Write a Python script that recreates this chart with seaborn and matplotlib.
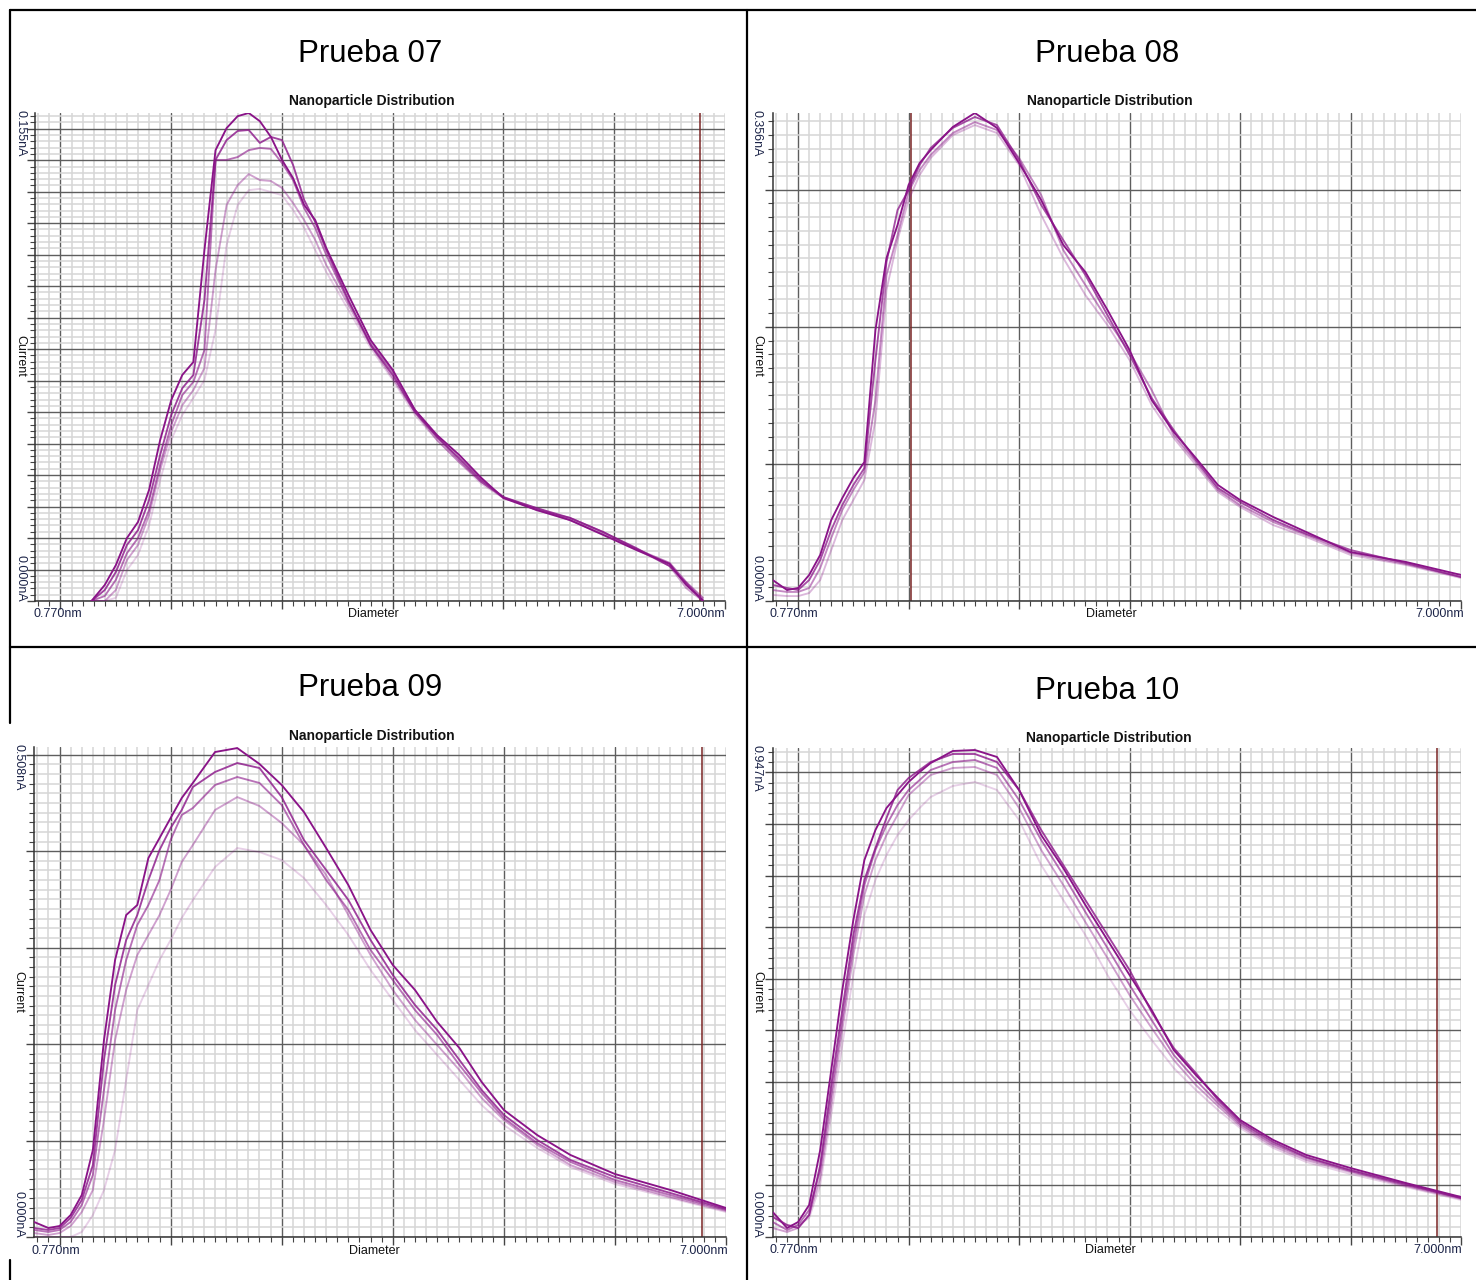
import numpy as np
import pandas as pd
import matplotlib
matplotlib.use("Agg")
import matplotlib.pyplot as plt
from matplotlib.ticker import MultipleLocator
from matplotlib.lines import Line2D
import seaborn as sns

W, H = 1476, 1280
sns.set_style("white")
plt.rcParams['font.family'] = ['Liberation Sans', 'DejaVu Sans']

# ---------------- text ----------------
titles = ["Prueba 07", "Prueba 08", "Prueba 09", "Prueba 10"]
chart_title = "Nanoparticle Distribution"
x_label = "Diameter"
y_label = "Current"
x_min_label = "0.770nm"
x_max_label = "7.000nm"
y_max_labels = ["0.155nA", "0.356nA", "0.508nA", "0.947nA"]
y_min_label = "0.000nA"

# ---------------- scales ----------------
x_range_nm = (0.77, 7.0)
y_max_nA = [0.155, 0.356, 0.508, 0.947]
y_major_nA = [0.01, 0.1, 0.1, 0.1]
y_minor_nA = [0.002, 0.01, 0.01, 0.02]
marker_nm = [6.77, 2.02, 6.78, 6.78]

# ---------------- data (diameter nm, current pA) ----------------
d07 = [1.28, 1.4, 1.5, 1.6, 1.7, 1.8, 1.9, 2.0, 2.1, 2.2, 2.3, 2.4, 2.5, 2.6, 2.7,
       2.8, 2.9, 3.0, 3.1, 3.2, 3.3, 3.4, 3.6, 3.8, 4.0, 4.2, 4.4, 4.6, 4.8, 5.0,
       5.3, 5.6, 5.9, 6.2, 6.5, 6.65, 6.8]
p07_run1 = [0, 5.1, 11.4, 20.0, 25.1, 35.3, 51.1, 63.8, 71.8, 75.9, 111.5, 143.2, 150.2, 154.0, 155.0,
            152.4, 147.4, 140.1, 134.3, 125.8, 121.0, 112.1, 97.2, 82.9, 73.4, 60.7, 52.7, 46.4, 39.1, 32.7,
            28.9, 25.7, 21.0, 16.2, 11.8, 5.1, 0.3]
p07_run2 = [0, 3.5, 9.2, 17.8, 22.5, 32.1, 46.4, 59.1, 67.6, 71.8, 95.6, 140.1, 146.4, 149.3, 149.6,
            145.5, 147.4, 146.4, 138.5, 127.4, 120.4, 111.5, 95.6, 81.3, 71.8, 60.0, 52.1, 45.4, 38.4, 33.0,
            29.5, 26.4, 21.9, 16.8, 11.1, 5.7, 0]
p07_run3 = [0, 1.6, 6.7, 15.2, 20.0, 28.9, 43.2, 55.9, 65.4, 69.6, 79.7, 140.1, 140.1, 141.0, 143.2,
            143.9, 143.6, 139.1, 133.7, 124.8, 118.5, 109.9, 95.0, 81.9, 72.7, 60.7, 52.1, 44.8, 37.8, 33.0,
            28.9, 26.4, 21.9, 16.5, 12.1, 6.0, 1.0]
p07_run4 = [0, 0, 3.5, 13.0, 17.8, 27.3, 41.6, 53.7, 62.2, 67.0, 74.0, 105.1, 125.8, 132.1, 135.6,
            133.7, 133.4, 131.2, 126.4, 121.0, 114.7, 106.7, 94.0, 81.3, 70.8, 60.0, 51.1, 44.1, 37.8, 32.7,
            29.5, 25.7, 21.3, 16.5, 11.1, 4.1, 0]
p07_run5 = [0, 0, 1.0, 9.8, 14.6, 24.1, 38.4, 51.1, 59.1, 64.5, 70.2, 86.1, 113.1, 125.8, 130.5,
            130.9, 129.9, 128.9, 124.2, 118.5, 111.5, 104.5, 92.4, 80.4, 70.2, 59.1, 51.1, 44.1, 37.2, 32.7,
            28.9, 25.7, 21.0, 16.2, 11.4, 5.1, 0]

d08 = [0.77, 0.9, 1.0, 1.1, 1.2, 1.3, 1.4, 1.5, 1.6, 1.7, 1.8, 1.9, 2.0, 2.1, 2.2, 2.4, 2.6,
       2.8, 3.0, 3.2, 3.4, 3.6, 3.8, 4.0, 4.2, 4.4, 4.6, 4.8, 5.0, 5.3, 5.6, 6.0, 6.5, 7.0]
p08_run1 = [15.3, 8.0, 9.5, 19.0, 33.6, 59.1, 75.1, 89.7, 101.4, 197.7, 250.2, 274.3, 303.5, 319.5, 329.0, 345.8, 356.0,
            345.1, 319.5, 292.5, 259.7, 240.0, 212.3, 183.1, 146.6, 123.3, 104.3, 84.6, 73.7, 61.3, 50.3, 35.7, 28.5, 19.0]
p08_run2 = [11.7, 9.5, 8.0, 15.3, 29.9, 51.8, 70.0, 84.6, 97.0, 175.8, 247.3, 285.2, 299.8, 318.1, 330.5, 345.1, 353.1,
            347.2, 321.7, 288.9, 263.3, 237.8, 208.6, 179.5, 148.1, 124.7, 102.9, 82.4, 72.2, 59.1, 48.9, 37.2, 27.7, 17.5]
p08_run3 = [8.0, 6.6, 6.6, 9.5, 24.1, 46.0, 66.4, 81.0, 94.1, 146.6, 237.8, 267.0, 298.4, 314.4, 325.4, 341.4, 349.4,
            343.6, 323.2, 296.2, 256.0, 230.5, 205.0, 181.6, 153.9, 121.1, 101.4, 81.0, 70.0, 57.6, 48.1, 35.0, 27.0, 17.5]
p08_run4 = [4.4, 3.6, 3.6, 5.8, 15.3, 37.2, 59.1, 73.7, 88.3, 132.0, 226.9, 263.3, 292.5, 310.8, 323.2, 339.9, 347.2,
            341.4, 318.1, 281.6, 250.2, 223.2, 201.3, 175.8, 143.0, 118.9, 99.2, 79.5, 68.6, 55.4, 46.7, 33.6, 26.3, 16.8]

d09 = [0.77, 0.9, 1.0, 1.1, 1.2, 1.3, 1.4, 1.5, 1.6, 1.7, 1.8, 1.9, 2.0, 2.1, 2.2, 2.4, 2.6,
       2.8, 3.0, 3.2, 3.4, 3.6, 3.8, 4.0, 4.2, 4.4, 4.6, 4.8, 5.0, 5.3, 5.6, 6.0, 6.5, 7.0]
p09_run1 = [15.6, 9.3, 11.4, 22.8, 43.5, 90.2, 204.2, 287.2, 333.8, 344.2, 392.9, 413.6, 434.4, 455.1, 470.7, 502.8, 506.9,
            490.4, 468.6, 440.6, 403.3, 364.9, 318.3, 282.0, 256.1, 222.9, 195.9, 160.7, 131.7, 105.7, 85.0, 65.3, 48.7, 30.1]
p09_run2 = [9.3, 7.3, 9.3, 19.7, 38.4, 74.6, 183.5, 261.2, 307.9, 333.8, 370.1, 401.2, 424.0, 442.7, 466.5, 482.1, 491.4,
            486.2, 456.1, 411.6, 380.5, 349.4, 307.9, 271.6, 240.5, 214.6, 183.5, 152.4, 126.5, 100.6, 79.8, 62.2, 45.6, 29.0]
p09_run3 = [7.3, 5.2, 7.3, 15.6, 33.2, 64.3, 152.4, 235.3, 287.2, 323.5, 344.2, 370.1, 411.6, 437.5, 444.7, 468.6, 476.9,
            470.7, 447.9, 406.4, 370.1, 339.0, 297.5, 266.4, 235.3, 209.4, 178.3, 149.3, 123.4, 97.4, 77.8, 59.1, 43.5, 28.0]
p09_run4 = [4.1, 2.1, 4.1, 11.4, 25.9, 48.7, 121.3, 204.2, 256.1, 292.3, 313.1, 333.8, 359.7, 388.8, 406.4, 442.7, 456.1,
            446.8, 429.2, 406.4, 375.3, 333.8, 292.3, 256.1, 225.0, 199.0, 173.1, 144.1, 121.3, 95.4, 74.6, 57.0, 41.5, 27.0]
p09_run5 = [0, 0, 0, 0, 5.2, 22.8, 48.7, 90.2, 162.8, 235.3, 261.2, 287.2, 307.9, 330.7, 349.4, 383.6, 403.3,
            399.1, 390.8, 372.2, 344.2, 313.1, 276.8, 245.7, 214.6, 188.7, 162.8, 136.8, 116.1, 92.3, 72.6, 54.9, 40.4, 25.9]

d10 = [0.77, 0.9, 1.0, 1.1, 1.2, 1.3, 1.4, 1.5, 1.6, 1.7, 1.8, 1.9, 2.0, 2.1, 2.2, 2.4, 2.6,
       2.8, 3.0, 3.2, 3.4, 3.6, 3.8, 4.0, 4.2, 4.4, 4.6, 4.8, 5.0, 5.3, 5.6, 6.0, 6.5, 7.0]
p10_run1 = [48.4, 17.4, 29.0, 62.0, 168.5, 323.4, 478.3, 613.9, 730.1, 788.2, 830.8, 856.0, 881.2, 900.5, 917.9, 941.2, 943.1,
            929.6, 865.7, 778.5, 714.6, 643.0, 575.2, 507.4, 439.6, 362.1, 313.7, 269.2, 226.6, 187.9, 158.8, 133.6, 104.6, 77.5]
p10_run2 = [38.7, 23.2, 17.4, 42.6, 139.4, 294.4, 439.6, 584.9, 691.4, 753.3, 811.4, 865.7, 888.9, 904.4, 919.9, 935.4, 935.4,
            919.9, 865.7, 788.2, 720.4, 652.6, 584.9, 517.1, 435.7, 366.0, 317.6, 265.3, 222.7, 184.0, 154.9, 129.8, 102.6, 75.5]
p10_run3 = [29.0, 13.6, 23.2, 52.3, 129.8, 275.0, 420.2, 565.5, 681.7, 749.5, 797.9, 836.6, 865.7, 885.0, 904.4, 919.9, 923.8,
            908.3, 846.3, 768.8, 701.0, 629.4, 559.7, 488.0, 420.2, 352.5, 304.0, 259.5, 218.8, 180.1, 153.0, 127.8, 100.7, 75.5]
p10_run4 = [17.4, 9.7, 17.4, 42.6, 114.3, 255.6, 400.9, 546.1, 662.3, 730.1, 778.5, 817.2, 856.0, 875.3, 894.7, 908.3, 910.2,
            894.7, 830.8, 749.5, 681.7, 610.0, 540.3, 468.7, 404.7, 342.8, 294.4, 253.7, 215.0, 176.2, 149.1, 125.9, 98.8, 73.6]
p10_run5 = [42.6, 23.2, 23.2, 36.8, 100.7, 236.3, 371.8, 507.4, 623.6, 691.4, 739.8, 778.5, 807.6, 830.8, 852.1, 873.4, 881.2,
            865.7, 807.6, 720.4, 652.6, 584.9, 507.4, 439.6, 381.5, 327.3, 284.7, 245.9, 211.1, 172.4, 145.2, 122.0, 96.8, 71.7]

panel_data = [
    (d07, [p07_run1, p07_run2, p07_run3, p07_run4, p07_run5]),
    (d08, [p08_run1, p08_run2, p08_run3, p08_run4]),
    (d09, [p09_run1, p09_run2, p09_run3, p09_run4, p09_run5]),
    (d10, [p10_run1, p10_run2, p10_run3, p10_run4, p10_run5]),
]

# ---------------- layout (pixels) ----------------
# plot rect: left, top, right, bottom
rects = [(35, 113, 725, 601), (772.7, 113, 1461, 601),
         (34, 747, 726, 1237), (772.7, 748, 1461, 1237)]
title_pos = [(370, 54), (1107, 54), (370, 688), (1107, 691)]
ctitle_pos = [(372, 101), (1110, 101), (372, 736), (1109, 738)]
xlab_y = [614, 614, 1251, 1250]
xlab_c = [373, 1111, 374, 1110]
xmin_l = [33, 770, 31, 770]
xmax_r = [725, 1464, 728, 1462]
ylab_x = [20, 757, 18, 757]
ymax_top = [110, 110, 744, 745]
ymin_bot = [602, 602, 1238, 1238]
ylab_c = [356, 356, 992, 992]

purple = "#8a1488"
alphas5 = [1.0, 0.8, 0.6, 0.4, 0.2]
alphas4 = [1.0, 0.75, 0.5, 0.3]
label_col = "#1c2448"

fig = plt.figure(figsize=(W / 100, H / 100), dpi=100)
fig.patch.set_facecolor("white")


def fx(px):
    return px / W


def fy(py):
    return 1 - py / H


for i in range(4):
    l, t, r, b = rects[i]
    ax = fig.add_axes([fx(l), fy(b), (r - l) / W, (b - t) / H])
    ax.set_facecolor("white")
    d, runs = panel_data[i]
    al = alphas5 if len(runs) == 5 else alphas4
    order = list(range(len(runs)))[::-1]
    for k in order:
        sns.lineplot(x=np.array(d), y=np.array(runs[k]) / 1000.0, ax=ax, color=purple,
                     alpha=al[k], lw=1.35, estimator=None, sort=False, legend=False, zorder=3)
    ax.axvline(marker_nm[i], color="#7a2626", lw=1.1, zorder=2.5)
    ax.set_xlim(*x_range_nm)
    ax.set_ylim(0, y_max_nA[i])
    ax.xaxis.set_major_locator(MultipleLocator(1.0))
    ax.xaxis.set_minor_locator(MultipleLocator(0.1))
    ax.yaxis.set_major_locator(MultipleLocator(y_major_nA[i]))
    ax.yaxis.set_minor_locator(MultipleLocator(y_minor_nA[i]))
    ax.grid(which="minor", color="#d6d6d6", lw=1.1)
    ax.grid(which="major", color="#5e5e5e", lw=1.0)
    ax.set_axisbelow(True)
    ax.tick_params(which="major", length=6, width=1.0, color="#444444",
                   labelleft=False, labelbottom=False, left=True, bottom=True)
    ax.tick_params(which="minor", length=3.5, width=0.8, color="#444444", left=True, bottom=True)
    ax.set_xlabel("")
    ax.set_ylabel("")
    for s in ["top", "right"]:
        ax.spines[s].set_visible(False)
    for s in ["left", "bottom"]:
        ax.spines[s].set_color("#333333")
        ax.spines[s].set_linewidth(1.1)

    # texts
    fig.text(fx(title_pos[i][0]), fy(title_pos[i][1]), titles[i], ha="center", va="center",
             fontsize=22.5, color="black")
    fig.text(fx(ctitle_pos[i][0]), fy(ctitle_pos[i][1]), chart_title, ha="center", va="center",
             fontsize=10, fontweight="bold", color="#111111")
    fig.text(fx(xlab_c[i]), fy(xlab_y[i]), x_label, ha="center", va="center", fontsize=9, color="#111111")
    fig.text(fx(xmin_l[i]), fy(xlab_y[i]), x_min_label, ha="left", va="center", fontsize=9, color=label_col)
    fig.text(fx(xmax_r[i]), fy(xlab_y[i]), x_max_label, ha="right", va="center", fontsize=9, color=label_col)
    fig.text(fx(ylab_x[i]), fy(ymax_top[i]), y_max_labels[i], ha="center", va="top", rotation=270,
             fontsize=9, color=label_col)
    fig.text(fx(ylab_x[i]), fy(ymin_bot[i]), y_min_label, ha="center", va="bottom", rotation=270,
             fontsize=9, color=label_col)
    fig.text(fx(ylab_x[i]), fy(ylab_c[i]), y_label, ha="center", va="center", rotation=270,
             fontsize=9, color="#111111")

# table borders
borders = [((10, 10), (1476, 10)), ((10, 647), (1476, 647)), ((747, 10), (747, 1280)),
           ((10, 10), (10, 723)), ((10, 1260), (10, 1280))]
for (x0, y0), (x1, y1) in borders:
    fig.add_artist(Line2D([fx(x0), fx(x1)], [fy(y0), fy(y1)], color="black", lw=1.6))

fig.savefig("out.png", dpi=100, facecolor="white")
